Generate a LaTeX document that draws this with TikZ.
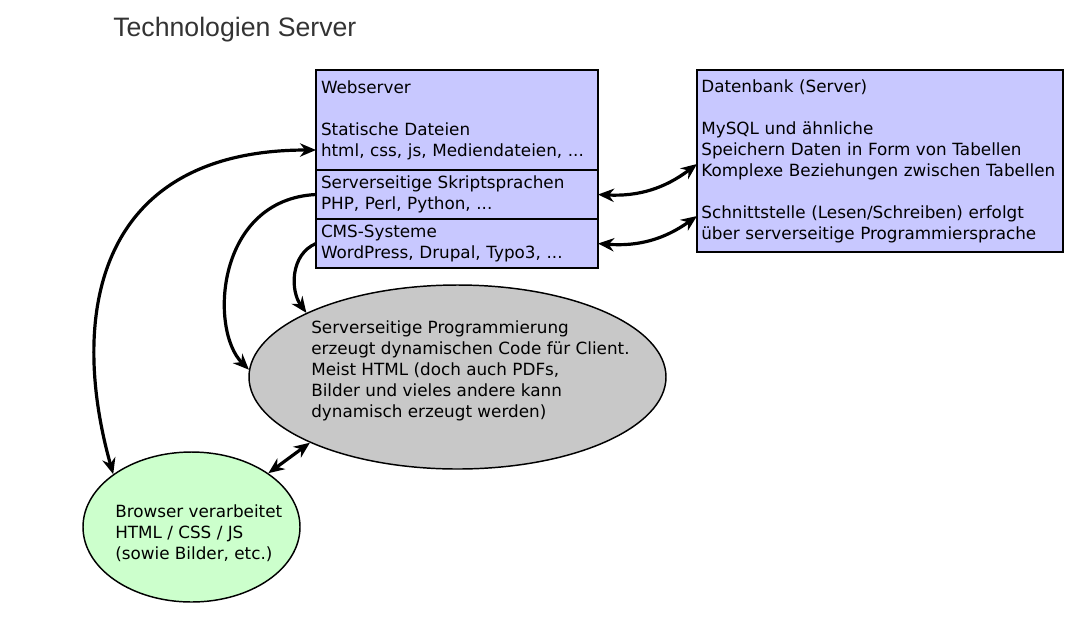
\documentclass[tikz,border=0pt]{standalone}
\usepackage{fontspec}
\setmainfont{DejaVu Sans}
\newfontfamily\titlefont{Liberation Sans}
\usepackage{tikz}
\usetikzlibrary{shapes.geometric, arrows.meta}
\usetikzlibrary{calc, positioning}
\definecolor{partblue}{RGB}{200,200,255}
\definecolor{bloblgray}{RGB}{200,200,200}
\definecolor{blobgreen}{RGB}{204,255,204}
\definecolor{titlegray}{RGB}{51,51,51}
\tikzstyle{part} = [rectangle, draw=black, line width=1.1pt, fill=partblue, align=left, text width=204pt, inner xsep=3.75pt, outer sep=0pt, font=\fontsize{12.6}{15.75}\selectfont]
\tikzstyle{blob} = [ellipse, draw=black, line width=1.1pt, inner sep=0pt]
\tikzstyle{txt} = [align=left, anchor=west, inner sep=0pt, font=\fontsize{12.6}{15.75}\selectfont]
\tikzstyle{arrow} = [line width=2.4pt,->,>={Stealth[length=12pt,width=10pt]}]

\begin{document}
\begin{tikzpicture}[x=0.75pt, y=-0.75pt]
        \useasboundingbox (0,0) rectangle (1081,619);

        \node (title) at (113,36) [anchor=base west, inner sep=0pt, text=titlegray, font=\titlefont\fontsize{20}{24}\selectfont] {Technologien Server};

        \node (ws1) at (316,70) [part, anchor=north west, minimum height=75pt] {Webserver\\[15.75pt]Statische Dateien\\html, css, js, Mediendateien, ...};
        \node (ws2) [part, below=0pt of ws1, minimum height=36.75pt] {Serverseitige Skriptsprachen\\PHP, Perl, Python, ...};
        \node (ws3) [part, below=0pt of ws2, minimum height=36.75pt] {CMS-Systeme\\WordPress, Drupal, Typo3, ...};

        \node (db) at (697,70) [part, anchor=north west, text width=268pt, inner xsep=3.25pt, minimum height=136.5pt] {Datenbank (Server)\\[15.75pt]MySQL und ähnliche\\Speichern Daten in Form von Tabellen\\Komplexe Beziehungen zwischen Tabellen\\[15.75pt]Schnittstelle (Lesen/Schreiben) erfolgt\\über serverseitige Programmiersprache};

        \node (prog) at (457.5,377) [blob, fill=bloblgray, minimum width=312.75pt, minimum height=138pt] {};
        \node (progtext) at (311,371) [txt] {Serverseitige Programmierung\\erzeugt dynamischen Code für Client.\\Meist HTML (doch auch PDFs,\\Bilder und vieles andere kann\\dynamisch erzeugt werden)};

        \node (browser) at (191.5,527) [blob, fill=blobgreen, minimum width=162.75pt, minimum height=112.5pt] {};
        \node (browsertext) at (115,533) [txt] {Browser verarbeitet\\HTML / CSS / JS\\(sowie Bilder, etc.)};

        \draw[arrow, <->] (browser.146) .. controls +(-45,-160) and +(-219,0) .. ([yshift=-22.5pt]ws1.west);
        \draw[arrow] (ws2.west) .. controls +(-100,5) and +(-40,-40) .. (prog.178);
        \draw[arrow] (ws3.west) .. controls +(-26,11) and +(-16,-22) .. (prog.157);
        \draw[arrow, <->] (browser.35) -- (prog.204);

        \draw[arrow, <->] (ws2.east) to[bend right=20] ([yshift=-2.25pt]db.west);
        \draw[arrow, <->] (ws3.east) to[bend right=20] ([yshift=-41.25pt]db.west);
\end{tikzpicture}
\end{document}
